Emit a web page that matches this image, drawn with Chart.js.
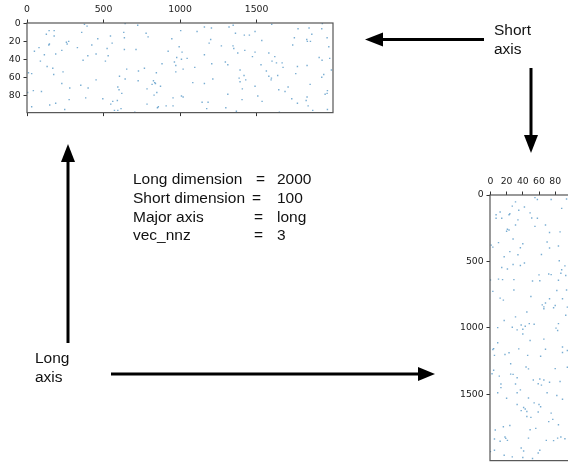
<!DOCTYPE html>
<html>
<head>
<meta charset="utf-8">
<script src="https://cdn.jsdelivr.net/npm/chart.js@4.4.1/dist/chart.umd.min.js"></script>
<style>
  html, body { margin:0; padding:0; background:#fff; }
  body { width:568px; height:469px; overflow:hidden; position:relative; }
  .box { position:absolute; }
  .t { position:absolute; font-family:"Liberation Sans", Arial, sans-serif; font-size:15.5px; line-height:18.5px; color:#111; white-space:nowrap; }
  svg { position:absolute; left:0; top:0; }
</style>
</head>
<body>
<div class="box" style="left:0;top:0;width:340px;height:121px"><canvas id="top" width="340" height="121"></canvas></div>
<div class="box" style="left:440px;top:170px;width:140px;height:299px"><canvas id="side" width="140" height="299"></canvas></div>

<svg width="568" height="469" viewBox="0 0 568 469">
  <g stroke="#000" stroke-width="3" fill="none">
    <line x1="484" y1="39.5" x2="382" y2="39.5"/>
    <line x1="531" y1="68" x2="531" y2="136"/>
    <line x1="68" y1="343" x2="68" y2="161"/>
    <line x1="111" y1="374" x2="419" y2="374"/>
  </g>
  <g fill="#000">
    <polygon points="365,39.5 383,32.5 383,46.5"/>
    <polygon points="531,153 524,135 538,135"/>
    <polygon points="68,144 61,162 75,162"/>
    <polygon points="435,374 418,367 418,381"/>
  </g>
</svg>

<div class="t" style="left:494px;top:21.4px">Short</div>
<div class="t" style="left:494px;top:40px">axis</div>
<div class="t" style="left:35px;top:349.4px">Long</div>
<div class="t" style="left:35px;top:368px">axis</div>

<div class="t" style="left:133px;top:170.4px">Long dimension</div>
<div class="t" style="left:256px;top:170.4px">=</div>
<div class="t" style="left:277px;top:170.4px">2000</div>
<div class="t" style="left:133px;top:189px">Short dimension</div>
<div class="t" style="left:252px;top:189px">=</div>
<div class="t" style="left:277px;top:189px">100</div>
<div class="t" style="left:133px;top:207.6px">Major axis</div>
<div class="t" style="left:254px;top:207.6px">=</div>
<div class="t" style="left:277px;top:207.6px">long</div>
<div class="t" style="left:133px;top:226.2px">vec_nnz</div>
<div class="t" style="left:254px;top:226.2px">=</div>
<div class="t" style="left:277px;top:226.2px">3</div>

<script>
// ---- tick labels ----
const topTickCols = [0, 500, 1000, 1500];
const topTickRows = [0, 20, 40, 60, 80];
const sideTickCols = [0, 20, 40, 60, 80];
const sideTickRows = [0, 500, 1000, 1500];

// ---- matrix shapes ----
const longDim = 2000;
const shortDim = 100;

// ---- top matrix (100 x 2000): non-zero columns and rows ----
const topCol = [
  144,177,375,392,641,126,177,357,632,636,545,462,272,257,262,146,142,556,423,78,
  48,227,329,523,636,113,187,397,451,530,366,512,87,131,168,235,9,30,174,651,
  604,641,451,227,351,279,399,593,601,4,41,94,619,275,383,495,560,590,187,148,
  547,30,246,571,593,614,
  723,778,791,1004,1159,1205,1320,1347,1111,946,1200,1190,1270,994,712,922,1013,1159,978,1046,
  1009,963,882,972,1207,1296,1312,767,1020,1096,728,845,972,1214,726,826,834,839,1083,1159,
  817,872,784,848,830,954,1009,1020,1312,784,852,858,909,954,1144,1183,1174,1299,704,
  1599,1362,1420,1453,1490,1771,1843,1930,1926,1861,1747,1828,1832,1852,1961,1534,1736,1346,1351,1972,
  1423,1377,1490,1580,1473,1619,1601,1630,1667,1673,1529,1767,1830,1909,1928,1978,1392,1564,1756,1939,
  1926,1989,1418,1386,1429,1392,1580,1597,1595,1638,1850,1490,1407,1645,1686,1706,1963,1961,1948,1508,
  1730,1830,1824,1405,1536,1767,1837,1867,1963,1368,1649
];
const topRow = [
  8,8,1,3,0,12,14,10,10,16,14,17,20,21,23,23,24,22,24,27,
  31,30,27,28,29,35,34,36,34,36,41,42,42,48,50,54,55,56,57,51,
  59,62,63,67,69,72,72,71,74,77,75,76,78,85,83,84,87,86,89,91,
  90,93,96,97,97,95,
  2,11,15,8,4,5,4,2,9,17,18,22,25,26,29,31,32,35,38,39,
  40,43,45,47,45,43,46,50,51,49,53,55,54,62,64,64,66,67,66,67,
  68,70,73,77,80,83,81,82,79,90,94,93,92,92,88,88,95,94,99,
  1,11,13,13,9,6,5,0,6,12,16,18,20,20,16,19,24,25,28,26,
  30,33,32,33,37,37,42,44,44,49,46,48,47,38,41,39,52,53,56,57,
  60,52,58,61,63,65,59,61,63,58,68,70,73,74,76,71,75,78,79,81,
  84,82,86,85,87,89,92,97,96,98,99
];

// ---- side matrix (2000 x 100): non-zero columns and rows ----
const sideCol = [
  31,55,58,75,94,27,42,35,88,12,7,23,24,49,7,14,51,58,34,31,
  55,68,21,23,20,73,86,28,10,70,40,1,3,37,73,84,24,34,63,17,
  85,42,28,37,92,14,21,88,60,72,75,87,93,10,15,29,52,61,0,84,
  29,3,82,94,50,12,16,73,89,68,64,66,80,78,95,66,45,93,31,17,
  48,54,38,43,84,9,27,81,
  33,40,83,40,49,66,9,4,3,35,68,89,95,89,23,18,5,46,62,25,
  44,47,80,95,4,2,25,28,11,33,61,66,53,86,73,13,31,59,63,13,
  37,33,9,70,82,89,20,47,54,33,60,62,41,43,38,59,45,75,45,50,
  77,72,84,24,16,6,56,49,87,83,92,18,19,21,12,5,47,69,78,38,
  41,61,5,0,17,27,40,52,59
];
const sideRow = [
  51,19,34,34,29,83,90,114,100,127,148,148,141,134,175,175,173,175,187,226,
  236,226,258,263,273,282,277,331,358,353,367,377,392,397,399,384,426,450,448,465,
  494,511,523,530,533,545,557,562,601,594,599,589,606,633,637,637,647,645,640,642,
  715,725,718,715,764,776,791,781,781,813,827,842,832,849,844,856,881,905,917,944,
  968,973,978,988,968,998,995,1002,
  1015,1010,1020,1046,1095,1085,1112,1156,1163,1158,1161,1144,1170,1185,1187,1200,1207,1207,1214,1270,
  1295,1309,1307,1297,1319,1346,1348,1350,1363,1375,1385,1392,1392,1404,1409,1423,1423,1421,1431,1450,
  1467,1489,1489,1489,1509,1538,1530,1528,1565,1577,1577,1594,1599,1611,1623,1633,1630,1642,1667,1674,
  1689,1706,1730,1735,1745,1769,1757,1767,1822,1830,1835,1822,1832,1847,1854,1837,1830,1847,1849,1905,
  1927,1922,1922,1932,1959,1971,1976,1983,1942
];

const tickFont = { family: "'DejaVu Sans', sans-serif", size: 9.3 };
const tickColor = '#222';

const framePlugin = {
  id: 'frame',
  afterDatasetsDraw(chart) {
    const { ctx, chartArea: a } = chart;
    ctx.save();
    ctx.strokeStyle = '#555';
    ctx.lineWidth = 1.2;
    ctx.strokeRect(a.left, a.top, a.right - a.left, a.bottom - a.top);
    ctx.restore();
  }
};

function fixTicks(vals) {
  return (scale) => { scale.ticks = vals.map(v => ({ value: v })); };
}
function fixSize(prop, px) {
  return (scale) => { scale[prop] = px; };
}
function axis(pos, min, max, vals, size, showLabels, reverse) {
  const vertical = (pos === 'left' || pos === 'right');
  return {
    type: 'linear', position: pos, min: min, max: max, reverse: !!reverse,
    afterBuildTicks: fixTicks(vals),
    afterFit: fixSize(vertical ? 'width' : 'height', size),
    border: { display: false },
    grid: { drawOnChartArea: false, drawTicks: true, tickLength: 3.5, color: '#333', lineWidth: 1 },
    ticks: { display: showLabels, font: tickFont, color: tickColor, padding: vertical ? 2.8 : 4,
             maxRotation: 0, autoSkip: false, callback: v => String(v) }
  };
}

const pointStyle = {
  pointStyle: 'rect', pointRadius: 1, pointHoverRadius: 1,
  backgroundColor: 'rgba(31,119,180,0.6)', borderWidth: 0
};

new Chart(document.getElementById('top'), {
  type: 'scatter',
  data: { datasets: [Object.assign({
    data: topCol.map((c, i) => ({ x: c, y: topRow[i] })),
    xAxisID: 'x', yAxisID: 'y'
  }, pointStyle)] },
  options: {
    responsive: false, animation: false, devicePixelRatio: 1,
    layout: { padding: { left: 0, right: 7, top: 0, bottom: 0 } },
    plugins: { legend: { display: false }, tooltip: { enabled: false } },
    scales: {
      x: axis('top', -0.5, longDim - 0.5, topTickCols, 23, true),
      x2: axis('bottom', -0.5, longDim - 0.5, topTickCols, 6, false),
      y: axis('left', -0.5, shortDim - 0.5, topTickRows, 27, true, true)
    }
  },
  plugins: [framePlugin]
});

new Chart(document.getElementById('side'), {
  type: 'scatter',
  data: { datasets: [Object.assign({
    data: sideCol.map((c, i) => ({ x: c, y: sideRow[i] })),
    xAxisID: 'x', yAxisID: 'y'
  }, pointStyle)] },
  options: {
    responsive: false, animation: false, devicePixelRatio: 1,
    layout: { padding: { left: 0, right: 9, top: 0, bottom: 0 } },
    plugins: { legend: { display: false }, tooltip: { enabled: false } },
    scales: {
      x: axis('top', -0.5, shortDim - 0.5, sideTickCols, 25, true),
      y: axis('left', -0.5, longDim - 0.5, sideTickRows, 50, true, true)
    }
  },
  plugins: [framePlugin]
});
</script>
</body>
</html>
